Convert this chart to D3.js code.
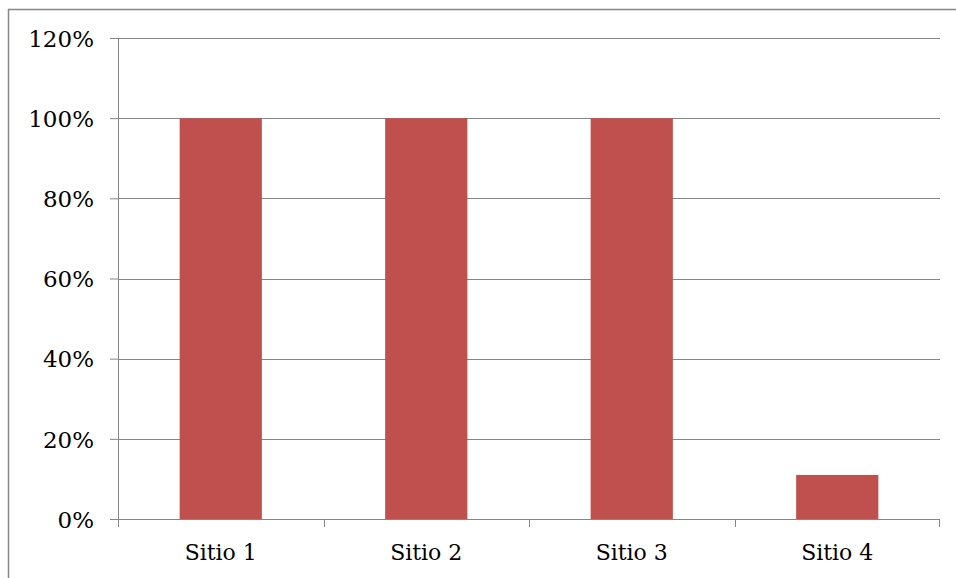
<!DOCTYPE html>
<html>
<head>
<meta charset="utf-8">
<script src="https://cdn.jsdelivr.net/npm/d3@7"></script>
<style>
  body { margin: 0; background: #fff; }
  text { font-family: "DejaVu Serif", serif; font-size: 22px; fill: #000; }
</style>
</head>
<body>
<div id="chart"></div>
<script>
// data
var sitios = ["Sitio 1", "Sitio 2", "Sitio 3", "Sitio 4"];
var valores = [1.0, 1.0, 1.0, 0.11];
var yTicks = [0, 0.2, 0.4, 0.6, 0.8, 1.0, 1.2];

var W = 956, H = 578;
var margin = {top: 38, right: 16, bottom: 59, left: 118},
    width = W - margin.left - margin.right,
    height = H - margin.top - margin.bottom;

var root = d3.select("#chart").append("svg")
    .attr("width", W)
    .attr("height", H);

// outer chart border
root.append("rect")
    .attr("x", 8.5).attr("y", 9.5)
    .attr("width", W).attr("height", H)
    .attr("fill", "none")
    .attr("stroke", "#868686")
    .attr("stroke-width", 1.5);

var svg = root.append("g")
    .attr("transform", "translate(" + margin.left + "," + margin.top + ")");

var x = d3.scaleBand()
    .domain(sitios)
    .range([0, width])
    .paddingInner(0.6)
    .paddingOuter(0.3);

var xCat = d3.scaleBand().domain(sitios).range([0, width]);

var y = d3.scaleLinear()
    .domain([0, 1.2])
    .range([height, 0]);

// gridlines
svg.selectAll("line.grid")
  .data(yTicks.filter(function(d) { return d > 0; }))
  .enter().append("line")
    .attr("class", "grid")
    .attr("x1", 0).attr("x2", width)
    .attr("y1", function(d) { return Math.round(y(d)) + 0.5; })
    .attr("y2", function(d) { return Math.round(y(d)) + 0.5; })
    .attr("stroke", "#868686")
    .attr("stroke-width", 1);

// bars
svg.selectAll("rect.bar")
  .data(valores)
  .enter().append("rect")
    .attr("class", "bar")
    .attr("x", function(d, i) { return x(sitios[i]); })
    .attr("y", function(d) { return y(d); })
    .attr("width", x.bandwidth())
    .attr("height", function(d) { return height - y(d); })
    .attr("fill", "#C0504D");

// Y axis
var yAxis = svg.append("g")
    .call(d3.axisLeft(y).tickValues(yTicks).tickSize(8).tickPadding(16)
      .tickFormat(d3.format(".0%")));
yAxis.select(".domain").remove();
yAxis.selectAll(".tick line").attr("stroke", "#868686");
yAxis.selectAll("text").attr("dy", "0.36em").style("font-size", "23px");
svg.append("line")
    .attr("x1", 0.5).attr("x2", 0.5)
    .attr("y1", 0).attr("y2", height + 8)
    .attr("stroke", "#868686");

// X axis
svg.append("line")
    .attr("x1", 0).attr("x2", width)
    .attr("y1", height + 0.5).attr("y2", height + 0.5)
    .attr("stroke", "#868686");
svg.selectAll("line.xtick")
  .data(sitios.slice(1).concat(["end"]))
  .enter().append("line")
    .attr("class", "xtick")
    .attr("x1", function(d) { return d === "end" ? width - 0.5 : Math.round(xCat(d)) + 0.5; })
    .attr("x2", function(d) { return d === "end" ? width - 0.5 : Math.round(xCat(d)) + 0.5; })
    .attr("y1", height).attr("y2", height + 8)
    .attr("stroke", "#868686");
svg.selectAll("text.xlab")
  .data(sitios)
  .enter().append("text")
    .attr("class", "xlab")
    .attr("x", function(d) { return xCat(d) + xCat.bandwidth() / 2; })
    .attr("y", height + 41)
    .attr("text-anchor", "middle")
    .text(function(d) { return d; });
</script>
</body>
</html>
